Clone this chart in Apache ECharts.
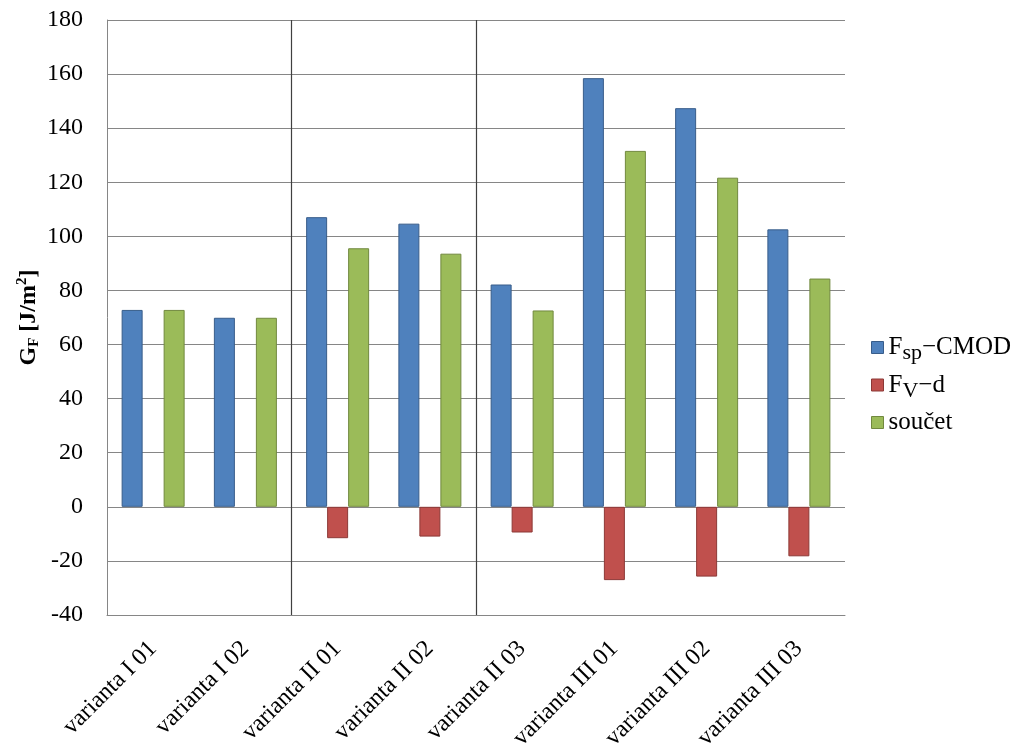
<!DOCTYPE html>
<html><head><meta charset="utf-8">
<script src="https://cdn.jsdelivr.net/npm/echarts@6/dist/echarts.min.js"></script>
<style>html,body{margin:0;padding:0;background:#fff}#c{width:1024px;height:754px}</style>
</head><body><div id="c"></div>
<script>
const categories = ['varianta I 01','varianta I 02','varianta II 01','varianta II 02','varianta II 03','varianta III 01','varianta III 02','varianta III 03'];
const fspCmod = [72.8, 69.9, 107.1, 104.7, 82.2, 158.5, 147.4, 102.6];
const fvD = [null, null, -11.6, -11.0, -9.5, -27.1, -25.8, -18.3];
const soucet = [72.8, 69.9, 95.6, 93.6, 72.6, 131.6, 121.7, 84.4];
const seriesNames = ['Fsp-CMOD', 'Fv-d', 'součet'];
const groupBreaks = [2, 4];   // separator lines before these category indices
const yTicks = {min: -40, max: 180, interval: 20};

const font = '"Liberation Serif", "Times New Roman", serif';
const chart = echarts.init(document.getElementById('c'));
function mk(name, data, color, border) {
  return {
    name, type: 'bar', data, barGap: '0%', barWidth: 21,
    itemStyle: {color, borderColor: border, borderWidth: 1},
    emphasis: {disabled: true}
  };
}
const borders = ['#385d8a', '#8c3836', '#71893f'];
chart.setOption({
  animation: false,
  backgroundColor: '#fff',
  grid: {left: 107, right: 179, top: 20, bottom: 139, containLabel: false, outerBoundsMode: 'none'},
  legend: {
    orient: 'vertical', left: 866, top: 330, itemGap: 8,
    itemWidth: 12, itemHeight: 12,
    icon: 'rect',
    data: seriesNames.map((n, i) => ({name: n, itemStyle: {borderWidth: 1, borderColor: borders[i]}})),
    formatter: function (n) {
      if (n === 'Fsp-CMOD') return '{a|F}{s|sp}{a|−CMOD}';
      if (n === 'Fv-d') return '{a|F}{s|V}{a|−d}';
      return '{a|' + n + '}';
    },
    textStyle: {
      fontFamily: font, color: '#000', fontSize: 25,
      rich: {
        a: {fontFamily: font, fontSize: 25, color: '#000'},
        s: {fontFamily: font, fontSize: 22, color: '#000', padding: [12, 0, 0, 0]}
      }
    }
  },
  xAxis: [{
    type: 'category', data: categories,
    axisLine: {onZero: false, lineStyle: {color: '#868686', width: 1}},
    axisTick: {show: false},
    splitLine: {show: false},
    axisLabel: {rotate: 45, fontFamily: font, fontSize: 24, color: '#000', margin: 30, interval: 0}
  }, {
    type: 'value', min: 0, max: categories.length, show: false
  }],
  yAxis: {
    type: 'value', min: yTicks.min, max: yTicks.max, interval: yTicks.interval,
    name: '{b|G}{bs|F}{b| [J/m}{sup|2}{b|]}',
    nameLocation: 'middle', nameGap: 65, nameRotate: 90, nameMoveOverlap: false,
    nameTextStyle: {
      rich: {
        b: {fontFamily: font, fontSize: 24, fontWeight: 'bold', color: '#000'},
        bs: {fontFamily: font, fontSize: 15, fontWeight: 'bold', color: '#000', padding: [12, 0, 0, 0]},
        sup: {fontFamily: font, fontSize: 15, fontWeight: 'bold', color: '#000', padding: [0, 0, 12, 0]}
      }
    },
    axisLine: {show: true, lineStyle: {color: '#868686'}},
    axisTick: {show: false},
    splitLine: {lineStyle: {color: '#868686', width: 1}},
    axisLabel: {fontFamily: font, fontSize: 24, color: '#000', margin: 24}
  },
  series: [
    mk(seriesNames[0], fspCmod, '#4f81bd', borders[0]),
    mk(seriesNames[1], fvD, '#c0504d', borders[1]),
    mk(seriesNames[2], soucet, '#9bbb59', borders[2]),
    {
      name: 'breaks', type: 'line', xAxisIndex: 1, data: [], silent: true,
      markLine: {
        symbol: 'none', silent: true, animation: false,
        label: {show: false},
        lineStyle: {color: '#404040', width: 1.2, type: 'solid'},
        data: groupBreaks.map(v => ({xAxis: v}))
      }
    }
  ]
});
</script></body></html>
